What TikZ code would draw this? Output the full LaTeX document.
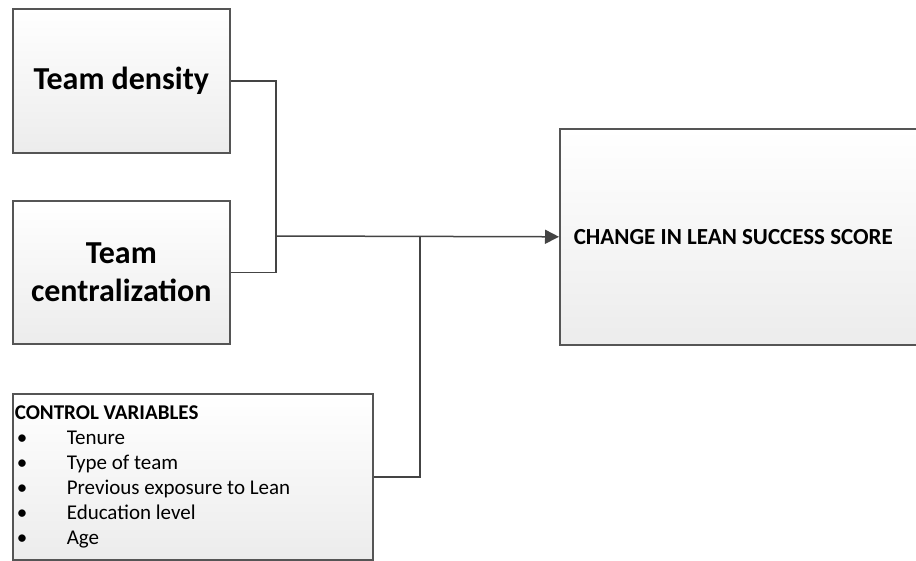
\documentclass[tikz,border=0pt]{standalone}
\usepackage{fontspec}
\setmainfont{Carlito}
\usetikzlibrary{arrows.meta}
\definecolor{boxline}{HTML}{555555}
\definecolor{boxbot}{HTML}{ECECEC}
\definecolor{conncol}{HTML}{444444}
\begin{document}
\begin{tikzpicture}[x=1pt,y=-1pt,
  box/.style={draw=boxline, line width=1.6pt, top color=white, bottom color=boxbot,
    anchor=north west, inner sep=0pt},
  conn/.style={draw=conncol, line width=1.5pt},
  arr/.style={conn, -{Triangle[length=14pt,width=14pt]}},
  bigtxt/.style={font=\fontsize{32}{38}\selectfont\bfseries, align=flush center},
]
\useasboundingbox (0,0) rectangle (916,561);
\clip (0,0) rectangle (916,561);

\node[box, bigtxt, minimum width=217pt, minimum height=144pt] (td) at (12,8) {Team density};
\node[box, bigtxt, minimum width=217pt, minimum height=143pt] (tc) at (12,200) {Team\\centralization};
\node[box, minimum width=380pt, minimum height=216pt, text width=352pt, inner xsep=14pt,
  align=flush left, font=\fontsize{23}{27}\selectfont\bfseries] (out) at (559,128) {CHANGE IN LEAN SUCCESS SCORE};
\node[box, minimum width=360pt, minimum height=166pt, text width=356pt, inner xsep=2pt,
  align=flush left, font=\fontsize{21}{25}\selectfont] (cv) at (12,393)
  {\textbf{CONTROL VARIABLES}\\
   \makebox[52pt][l]{\hspace{2pt}•}Tenure\\
   \makebox[52pt][l]{\hspace{2pt}•}Type of team\\
   \makebox[52pt][l]{\hspace{2pt}•}Previous exposure to Lean\\
   \makebox[52pt][l]{\hspace{2pt}•}Education level\\
   \makebox[52pt][l]{\hspace{2pt}•}Age};

\coordinate (j1) at (276,236);
\coordinate (j2) at (420,236);
\draw[conn] (td.east) -| (j1);
\draw[conn] (tc.east) -| (j1);
\draw[arr] (j1) -- (out.west);
\draw[conn] (cv.east) -| (j2);
\end{tikzpicture}
\end{document}
